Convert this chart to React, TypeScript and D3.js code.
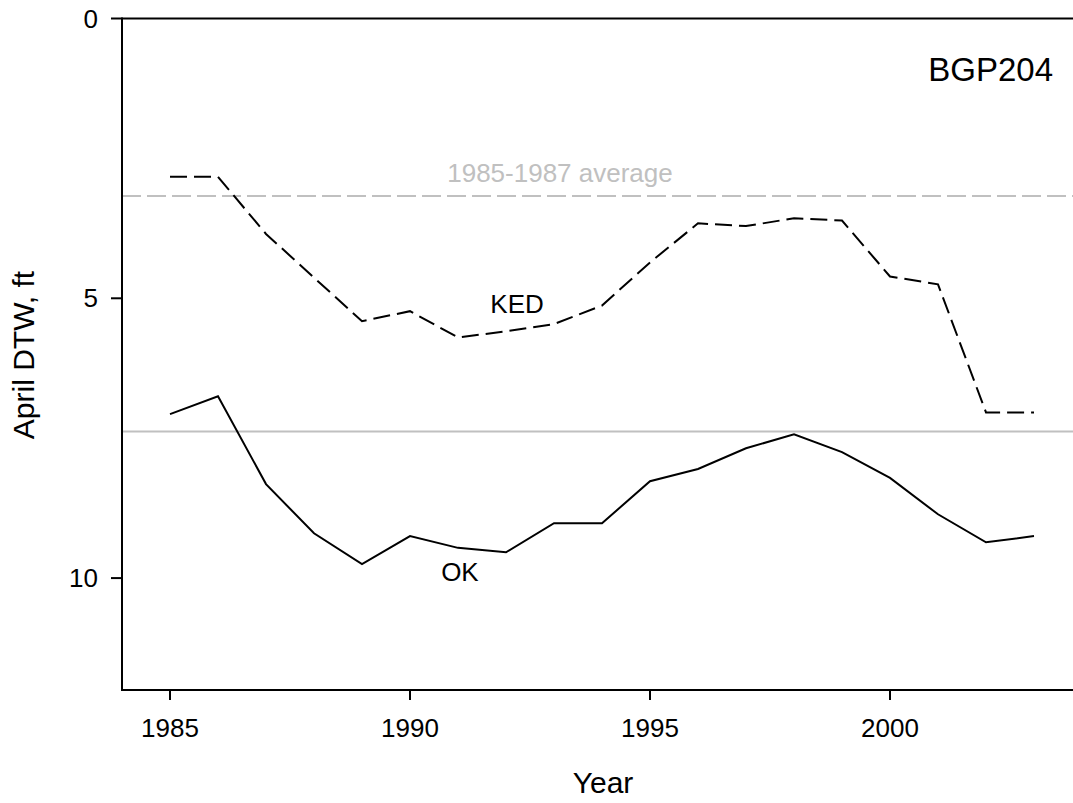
import React from "react";
import * as d3 from "d3";

const years = [1985, 1986, 1987, 1988, 1989, 1990, 1991, 1992, 1993, 1994, 1995, 1996, 1997, 1998, 1999, 2000, 2001, 2002, 2003];
const kedValues = [2.83, 2.83, 3.85, 4.63, 5.41, 5.23, 5.7, 5.59, 5.46, 5.13, 4.36, 3.66, 3.71, 3.57, 3.61, 4.61, 4.75, 7.04, 7.04];
const okValues = [7.07, 6.75, 8.32, 9.2, 9.75, 9.25, 9.46, 9.54, 9.02, 9.02, 8.27, 8.05, 7.68, 7.43, 7.75, 8.21, 8.86, 9.36, 9.25];
const xTicks = [1985, 1990, 1995, 2000];
const yTicks = [0, 5, 10];
const baseYears = [1985, 1986, 1987];

const W = 1073;
const H = 803;
const FONT = "'Liberation Sans', Arial, Helvetica, sans-serif";

export default function App() {
  const x = d3.scaleLinear().domain([1984, 2004]).range([122, 1082]);
  const y = d3.scaleLinear().domain([0, 12]).range([18.5, 690]);

  const line = d3
    .line<number>()
    .x((_, i) => x(years[i]))
    .y((v) => y(v));

  const baseIdx = baseYears.map((yr) => years.indexOf(yr));
  const kedAvg = d3.mean(baseIdx, (i) => kedValues[i]) as number;
  const okAvg = d3.mean(baseIdx, (i) => okValues[i]) as number;

  const x0 = x.range()[0];
  const x1 = x.range()[1];
  const yTop = y(0);
  const yBot = y(12);

  return (
    <svg
      width={W}
      height={H}
      style={{ position: "absolute", left: 0, top: 0, background: "#fff" }}
      fontFamily={FONT}
    >
      {/* average lines */}
      <line x1={x0} x2={x1} y1={y(kedAvg)} y2={y(kedAvg)} stroke="#c0c0c0" strokeWidth={2} strokeDasharray="19,6" />
      <line x1={x0} x2={x1} y1={y(okAvg)} y2={y(okAvg)} stroke="#c0c0c0" strokeWidth={2} />
      <text x={x(1993.125)} y={y(2.93)} textAnchor="middle" fontSize={26} fill="#c0c0c0">
        1985-1987 average
      </text>

      {/* series */}
      <path d={line(kedValues) || ""} fill="none" stroke="#000" strokeWidth={2} strokeDasharray="17,7" />
      <path d={line(okValues) || ""} fill="none" stroke="#000" strokeWidth={2} />

      <text x={x(1992.23)} y={y(5.26)} textAnchor="middle" fontSize={26} fill="#000">
        KED
      </text>
      <text x={x(1991.04)} y={y(10.06)} textAnchor="middle" fontSize={26} fill="#000">
        OK
      </text>

      {/* axes */}
      <line x1={x0} x2={x0} y1={yTop - 1} y2={yBot + 1} stroke="#000" strokeWidth={2} />
      <line x1={x0} x2={x1} y1={yBot} y2={yBot} stroke="#000" strokeWidth={2} />
      <line x1={x0} x2={x1} y1={yTop} y2={yTop} stroke="#000" strokeWidth={2} />
      {yTicks.map((t) => (
        <g key={"y" + t}>
          <line x1={x0 - 11} x2={x0} y1={y(t)} y2={y(t)} stroke="#000" strokeWidth={2} />
          <text x={x0 - 24} y={y(t)} dy="0.35em" textAnchor="end" fontSize={26} fill="#000">
            {t}
          </text>
        </g>
      ))}
      {xTicks.map((t) => (
        <g key={"x" + t}>
          <line x1={x(t)} x2={x(t)} y1={yBot} y2={yBot + 10} stroke="#000" strokeWidth={2} />
          <text x={x(t)} y={yBot + 47} textAnchor="middle" fontSize={26} fill="#000">
            {t}
          </text>
        </g>
      ))}

      <text x={603} y={793} textAnchor="middle" fontSize={30} fill="#000">
        Year
      </text>
      <text
        transform={`translate(34, ${355}) rotate(-90)`}
        textAnchor="middle"
        fontSize={30}
        fill="#000"
      >
        April DTW, ft
      </text>
      <text x={1053} y={81} textAnchor="end" fontSize={33} fill="#000">
        BGP204
      </text>
    </svg>
  );
}
